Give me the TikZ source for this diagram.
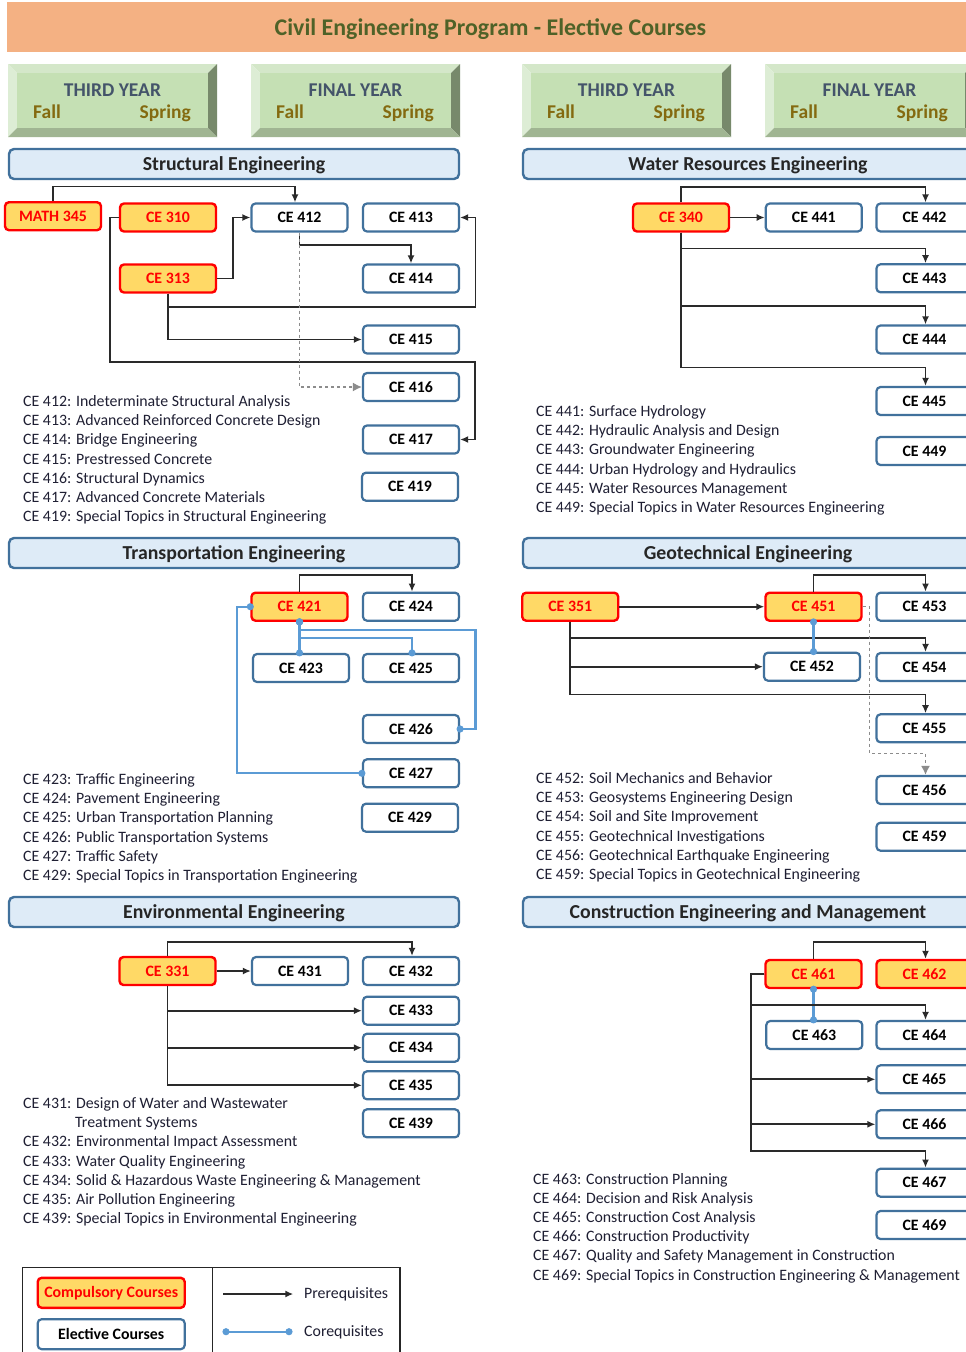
\documentclass[tikz,border=0pt]{standalone}
\usepackage{fontspec}
\setmainfont{Carlito}
\usetikzlibrary{arrows.meta,calc}
\definecolor{titlebg}{HTML}{F4B183}
\definecolor{titlefg}{HTML}{4F6228}
\definecolor{secfill}{HTML}{DEEBF7}
\definecolor{secdraw}{HTML}{41719C}
\definecolor{compfill}{HTML}{FFD966}
\definecolor{elecdraw}{HTML}{41719C}
\definecolor{corcol}{HTML}{5B9BD5}
\definecolor{precol}{HTML}{2A2A2A}
\definecolor{yrface}{HTML}{C5E0B4}
\definecolor{yrtop}{HTML}{D4E7C9}
\definecolor{yrleft}{HTML}{DDEDD5}
\definecolor{yrright}{HTML}{77896B}
\definecolor{yrbottom}{HTML}{A0B592}
\definecolor{yrheadcol}{HTML}{44546A}
\definecolor{yrsemcol}{HTML}{846A10}
\definecolor{desccol}{HTML}{1F1F33}
\tikzset{
 course/.style={rounded corners=4pt, minimum width=96pt, minimum height=28pt, inner sep=0pt,
   font=\bfseries\fontsize{15.85}{19}\selectfont, text height=10.2pt, text depth=0pt},
 comp/.style={course, draw=red, line width=2.4pt, fill=compfill, text=red},
 elec/.style={course, draw=elecdraw, line width=2.2pt, fill=white, text=black},
 sechead/.style={rounded corners=5pt, draw=secdraw, line width=2.4pt, fill=secfill,
   minimum width=450pt, minimum height=30pt, inner sep=0pt,
   font=\bfseries\fontsize{19.8}{22}\selectfont, text=black!85, text height=12.8pt, text depth=0pt},
 pre/.style={draw=precol, line width=1.8pt, -{Latex[length=8pt,width=7pt]}},
 predash/.style={draw=black!45, line width=1.5pt, dashed, -{Latex[length=9pt,width=9pt]}},
 cor/.style={draw=corcol, line width=2.1pt, {Circle[length=7pt]}-{Circle[length=7pt]},
   shorten <=-3.5pt, shorten >=-3.5pt},
 desc/.style={anchor=base west, inner sep=0pt, text=desccol, font=\fontsize{15.85}{19.2}\selectfont},
 yrhead/.style={anchor=base, inner sep=0pt, text=yrheadcol, font=\bfseries\fontsize{19.5}{22}\selectfont},
 yrsem/.style={inner sep=0pt, text=yrsemcol, font=\bfseries\fontsize{19.5}{22}\selectfont},
}
\newcommand{\yearbox}[3]{%
\begin{scope}[shift={(#1,0)}]
\fill[yrtop] (0,64) -- (209,64) -- (200,73) -- (9,73) -- cycle;
\fill[yrleft] (0,64) -- (9,73) -- (9,128) -- (0,137) -- cycle;
\fill[yrright] (209,64) -- (209,137) -- (200,128) -- (200,73) -- cycle;
\fill[yrbottom] (0,137) -- (209,137) -- (200,128) -- (9,128) -- cycle;
\fill[yrface] (9,73) rectangle (200,128);
\node[yrhead] (#2h) at (104.5,96) {#3};
\node[yrsem, anchor=base west] (#2f) at (25,118) {Fall};
\node[yrsem, anchor=base east] (#2s) at (183,118) {Spring};
\end{scope}}
\begin{document}
\begin{tikzpicture}[x=1pt,y=-1pt]
\useasboundingbox (0,0) rectangle (966,1352);
\clip (0,0) rectangle (966,1352);
\fill[white] (0,0) rectangle (966,1352);
% title
\fill[titlebg] (7,2) rectangle (990,52);
\node[anchor=base, inner sep=0pt, text=titlefg, font=\bfseries\fontsize{23.9}{26}\selectfont] (title) at (490.5,35) {Civil Engineering Program - Elective Courses};
% year boxes
\yearbox{8}{ya}{THIRD YEAR}
\yearbox{251}{yb}{FINAL YEAR}
\yearbox{522}{yc}{THIRD YEAR}
\yearbox{765}{yd}{FINAL YEAR}
% section headers
\node[sechead] (hstruct) at (234,164) {Structural Engineering};
\node[sechead] (hwater) at (748,164) {Water Resources Engineering};
\node[sechead] (htrans) at (234,553) {Transportation Engineering};
\node[sechead] (hgeo) at (748,553) {Geotechnical Engineering};
\node[sechead] (henv) at (234,912) {Environmental Engineering};
\node[sechead] (hcon) at (748,912) {Construction Engineering and Management};

% ---------- Structural ----------
\node[comp] (m345) at (53,216.2) {MATH 345};
\node[comp] (c310) at (168,217.5) {CE 310};
\node[elec] (c412) at (299.5,217.5) {CE 412};
\node[elec] (c413) at (411,217.5) {CE 413};
\node[comp] (c313) at (168,278.5) {CE 313};
\node[elec] (c414) at (411,278.5) {CE 414};
\node[elec] (c415) at (411,339.5) {CE 415};
\node[elec] (c416) at (411,387) {CE 416};
\node[elec] (c417) at (411,439.5) {CE 417};
\node[elec] (c419) at (410,486.7) {CE 419};
\draw[pre] (m345.north) -- ++(0,-14.5) -| ([xshift=-4.5pt]c412.north);
\draw[pre] (c310.west) -- ++(-9,0) -- ++(0,144.5) -- ++(365,0) |- (c417.east);
\draw[pre] (c313.east) -- ++(16,0) |- (c412.west);
\draw[pre] (c412.south) -- ++(0,12.5) -| (c414.north);
\draw[pre] (c313.south) -- ++(0,13.5) -- ++(307.5,0) |- (c413.east);
\draw[pre] (c313.south) |- (c415.west);
\draw[predash] (c412.south) |- (c416.west);
\node[desc] (dstruct) at (23,406.5) {\begin{tabular}[t]{@{}l@{}}CE 412: Indeterminate Structural Analysis\\
CE 413: Advanced Reinforced Concrete Design\\
CE 414: Bridge Engineering\\
CE 415: Prestressed Concrete\\
CE 416: Structural Dynamics\\
CE 417: Advanced Concrete Materials\\
CE 419: Special Topics in Structural Engineering\end{tabular}};

% ---------- Water ----------
\node[comp] (c340) at (681,217.5) {CE 340};
\node[elec] (c441) at (813.8,217.5) {CE 441};
\node[elec] (c442) at (924.5,217.5) {CE 442};
\node[elec] (c443) at (924.5,278.3) {CE 443};
\node[elec] (c444) at (924.5,339.5) {CE 444};
\node[elec] (c445) at (924.5,401) {CE 445};
\node[elec] (c449) at (924.5,451) {CE 449};
\draw[pre] (c340.north) -- ++(0,-15) -| ([xshift=1pt]c442.north);
\draw[pre] (c340.east) -- (c441.west);
\draw[pre] (c340.south) -- ++(0,15.7) -| ([xshift=1pt]c443.north);
\draw[pre] (c340.south) -- ++(0,73) -| ([xshift=1pt]c444.north);
\draw[pre] (c340.south) -- ++(0,134.7) -| ([xshift=1pt]c445.north);
\node[desc] (dwater) at (536,416.5) {\begin{tabular}[t]{@{}l@{}}CE 441: Surface Hydrology\\
CE 442: Hydraulic Analysis and Design\\
CE 443: Groundwater Engineering\\
CE 444: Urban Hydrology and Hydraulics\\
CE 445: Water Resources Management\\
CE 449: Special Topics in Water Resources Engineering\end{tabular}};

% ---------- Transportation ----------
\node[comp] (c421) at (299.5,606.7) {CE 421};
\node[elec] (c424) at (411,606.7) {CE 424};
\node[elec] (c423) at (301,668) {CE 423};
\node[elec] (c425) at (411,668) {CE 425};
\node[elec] (c426) at (411,729) {CE 426};
\node[elec] (c427) at (411,773.3) {CE 427};
\node[elec] (c429) at (410,817.7) {CE 429};
\draw[pre] (c421.north) -- ++(0,-16.6) -| ([xshift=1pt]c424.north);
\draw[cor] (c421.south) -- (c421.south |- c423.north);
\draw[cor] (c421.south) -- ++(0,16.5) -| ([xshift=1pt]c425.north);
\draw[cor] (c421.south) -- ++(0,8.2) -- ++(176,0) |- (c426.east);
\draw[cor] (c421.west) -- ++(-13.5,0) |- (c427.west);
\node[desc] (dtrans) at (23,784.5) {\begin{tabular}[t]{@{}l@{}}CE 423: Traffic Engineering\\
CE 424: Pavement Engineering\\
CE 425: Urban Transportation Planning\\
CE 426: Public Transportation Systems\\
CE 427: Traffic Safety\\
CE 429: Special Topics in Transportation Engineering\end{tabular}};

% ---------- Geotechnical ----------
\node[comp] (c351) at (570.2,606.7) {CE 351};
\node[comp] (c451) at (813.5,606.7) {CE 451};
\node[elec] (c453) at (924.5,606.7) {CE 453};
\node[elec] (c452) at (812,666.7) {CE 452};
\node[elec] (c454) at (924.5,667) {CE 454};
\node[elec] (c455) at (924.5,728.3) {CE 455};
\node[elec] (c456) at (924.5,790) {CE 456};
\node[elec] (c459) at (924.5,836.7) {CE 459};
\draw[pre] (c351.east) -- (c451.west);
\draw[pre] (c451.north) -- ++(0,-16.6) -| ([xshift=1pt]c453.north);
\draw[pre] (c351.south) -- ++(0,16) -| ([xshift=1pt]c454.north);
\draw[pre] (c351.south) |- (c452.west);
\draw[pre] (c351.south) -- ++(0,72.5) -| ([xshift=1pt]c455.north);
\draw[cor] (c451.south) -- (c451.south |- c452.north);
\draw[predash] (c451.east) -- ++(7,0) -- ++(0,146.6) -| ([xshift=1pt]c456.north);
\node[desc] (dgeo) at (536,783.5) {\begin{tabular}[t]{@{}l@{}}CE 452: Soil Mechanics and Behavior\\
CE 453: Geosystems Engineering Design\\
CE 454: Soil and Site Improvement\\
CE 455: Geotechnical Investigations\\
CE 456: Geotechnical Earthquake Engineering\\
CE 459: Special Topics in Geotechnical Engineering\end{tabular}};

% ---------- Environmental ----------
\node[comp] (c331) at (167.5,971) {CE 331};
\node[elec] (c431) at (300,971) {CE 431};
\node[elec] (c432) at (411,971) {CE 432};
\node[elec] (c433) at (411,1010.7) {CE 433};
\node[elec] (c434) at (411,1047.7) {CE 434};
\node[elec] (c435) at (411,1085.3) {CE 435};
\node[elec] (c439) at (411,1123.3) {CE 439};
\draw[pre] (c331.north) -- ++(0,-14.2) -| ([xshift=1pt]c432.north);
\draw[pre] (c331.east) -- (c431.west);
\draw[pre] (c331.south) |- (c433.west);
\draw[pre] (c331.south) |- (c434.west);
\draw[pre] (c331.south) |- (c435.west);
\node[desc] (denv) at (23,1108.5) {\begin{tabular}[t]{@{}l@{}}CE 431: Design of Water and Wastewater\\
\hspace*{52pt}Treatment Systems\\
CE 432: Environmental Impact Assessment\\
CE 433: Water Quality Engineering\\
CE 434: Solid \& Hazardous Waste Engineering \& Management\\
CE 435: Air Pollution Engineering\\
CE 439: Special Topics in Environmental Engineering\end{tabular}};

% ---------- Construction ----------
\node[comp] (c461) at (813.5,974) {CE 461};
\node[comp] (c462) at (924.5,974) {CE 462};
\node[elec] (c463) at (814.3,1035) {CE 463};
\node[elec] (c464) at (924.5,1035) {CE 464};
\node[elec] (c465) at (924.5,1079.3) {CE 465};
\node[elec] (c466) at (924.5,1124.3) {CE 466};
\node[elec] (c467) at (924.5,1182.7) {CE 467};
\node[elec] (c469) at (924.5,1225) {CE 469};
\draw[pre] (c461.north) -- ++(0,-17.2) -| ([xshift=1pt]c462.north);
\draw[cor] (c461.south) -- (c461.south |- c463.north);
\draw[pre] (c461.west) -- ++(-13,0) -- ++(0,31) -| ([xshift=1pt]c464.north);
\draw[pre] (c461.west) -- ++(-13,0) |- (c465.west);
\draw[pre] (c461.west) -- ++(-13,0) |- (c466.west);
\draw[pre] (c461.west) -- ++(-13,0) -- ++(0,176.7) -| ([xshift=1pt]c467.north);
\node[desc] (dcon) at (533,1184) {\begin{tabular}[t]{@{}l@{}}CE 463: Construction Planning\\
CE 464: Decision and Risk Analysis\\
CE 465: Construction Cost Analysis\\
CE 466: Construction Productivity\\
CE 467: Quality and Safety Management in Construction\\
CE 469: Special Topics in Construction Engineering \& Management\end{tabular}};

% ---------- Legend ----------
\draw[line width=1.5pt, black!85] (22.7,1360) -- (22.7,1267.3) -- (400,1267.3) -- (400,1360);
\draw[line width=1.5pt, black!85] (212.3,1267.3) -- (212.3,1360);
\node[comp, minimum width=147pt, minimum height=30pt] (lcomp) at (111.2,1292.8) {Compulsory Courses};
\node[elec, minimum width=147pt, minimum height=30pt] (lelec) at (111.2,1334.2) {Elective Courses};
\coordinate (pa) at (223.3,1294);
\coordinate (pb) at (293.3,1294);
\draw[pre] (pa) -- (pb);
\node[desc] (lpre) at (304,1298.5) {Prerequisites};
\coordinate (ca) at (226,1331.7);
\coordinate (cb) at (289,1331.7);
\draw[cor] (ca) -- (cb);
\node[desc] (lcor) at (304,1336.5) {Corequisites};
\end{tikzpicture}
\end{document}
